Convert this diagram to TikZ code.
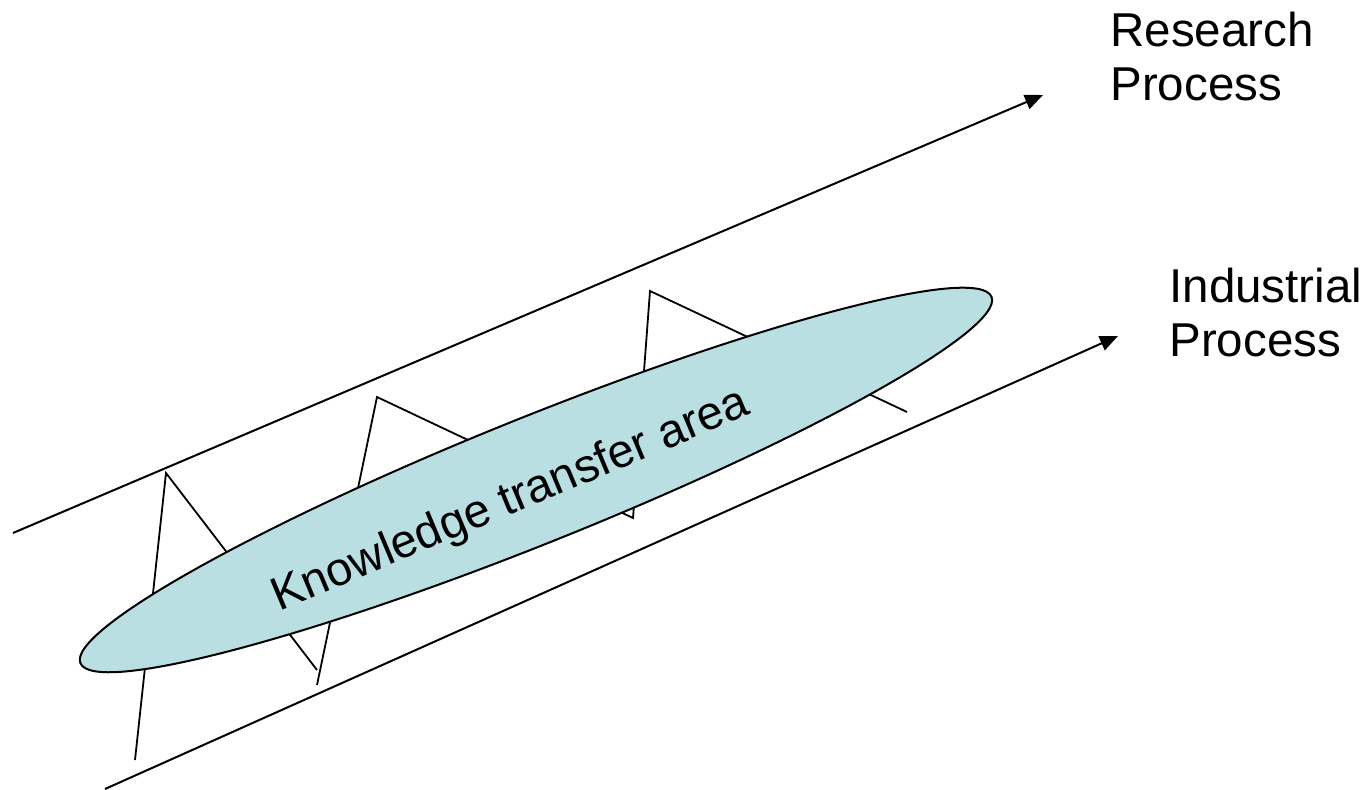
\documentclass[tikz,border=0pt]{standalone}
\usepackage{fontspec}
\setmainfont{Liberation Sans}
\usetikzlibrary{arrows.meta}

\definecolor{areafill}{RGB}{185,223,227}

\tikzset{
  process/.style={line width=1pt, -{Triangle[length=9pt,width=7.5pt]}},
  zig/.style={line width=0.9pt},
  label/.style={anchor=north west, inner sep=0pt, align=left,
                font=\fontsize{23.75}{27}\selectfont},
  arealabel/.style={anchor=base, inner sep=0pt, rotate=22.7,
                    font=\fontsize{23.5}{27}\selectfont}
}

\begin{document}
\begin{tikzpicture}[x=0.5pt, y=-0.5pt]
  \useasboundingbox (0,0) rectangle (1368,790);

  % end points of the two process arrows
  \coordinate (rStart) at (13,533);
  \coordinate (rEnd)   at (1043,95);
  \coordinate (iStart) at (105,789);
  \coordinate (iEnd)   at (1118,336);

  % corners of the zigzag exchange line
  \coordinate (z0) at (135,760);
  \coordinate (z1) at (166,473);
  \coordinate (z2) at (317,670);
  \coordinate (z3) at (317,685);
  \coordinate (z4) at (377,397);
  \coordinate (z5) at (633,518);
  \coordinate (z6) at (650,291);
  \coordinate (z7) at (907,412);

  % the two processes
  \draw[process] (rStart) -- (rEnd);
  \draw[process] (iStart) -- (iEnd);

  % zigzag between the processes
  \draw[zig] (z0) -- (z1) -- (z2);
  \draw[zig] (z3) -- (z4) -- (z5) -- (z6) -- (z7);

  % knowledge transfer area
  \coordinate (areaCenter) at (536,480);
  \filldraw[fill=areafill, draw=black, line width=1pt,
            rotate around={21.9:(areaCenter)}]
    (areaCenter) ellipse [x radius=245.5pt, y radius=31.5pt];
  \node[arealabel] (area) at (516,512.5) {Knowledge transfer area};

  % process labels
  \node[label] (research)   at (1110,12)  {Research\\Process};
  \node[label] (industrial) at (1169,268) {Industrial\\Process};
\end{tikzpicture}
\end{document}
